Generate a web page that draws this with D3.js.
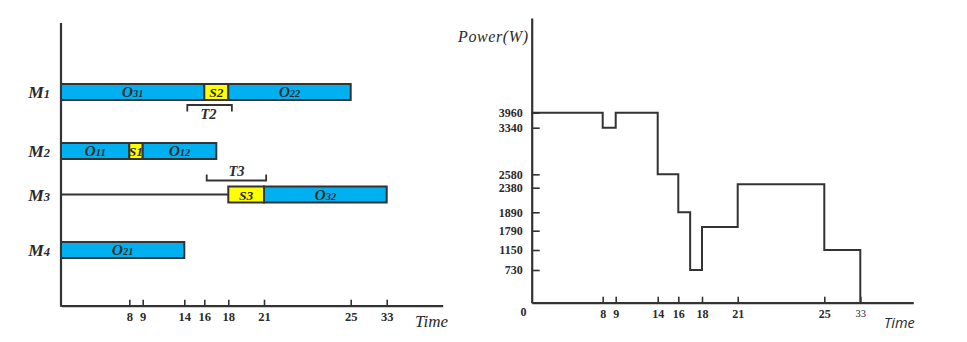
<!DOCTYPE html>
<html>
<head>
<meta charset="utf-8">
<script src="https://cdn.jsdelivr.net/npm/d3@7"></script>
<style>
  html, body { margin: 0; padding: 0; background: #fff; }
  svg { display: block; }
  text { fill: #2a2a2a; }
</style>
</head>
<body>
<svg id="chart" width="967" height="342"></svg>
<script>
// ---------------- DATA ----------------
const timeTicks = [8, 9, 14, 16, 18, 21, 25, 33];
const machines = ["M1", "M2", "M3", "M4"];
// Gantt segments: machine, kind (op / setup / idle), label base, label sub, start, end
const segMachine = ["M1", "M1", "M1", "M2", "M2", "M2", "M3", "M3", "M3", "M4"];
const segKind    = ["op", "setup", "op", "op", "setup", "op", "idle", "setup", "op", "op"];
const segBase    = ["O", "S2", "O", "O", "S1", "O", "", "S3", "O", "O"];
const segSub     = ["31", "", "22", "11", "", "12", "", "", "32", "21"];
const segStart   = [0, 16, 18, 0, 8, 9, 0, 18, 21, 0];
const segEnd     = [16, 18, 25, 8, 9, 17, 18, 21, 33, 14];
// transfer brackets
const brName  = ["T2", "T3"];
const brMach  = ["M1", "M3"];
const brStart = [14.3, 16.2];
const brEnd   = [18.3, 21.1];
// power profile (step after)
const powerTime  = [0, 8, 9, 14, 16, 17, 18, 21, 25, 33];
const powerValue = [3960, 3340, 3960, 2580, 1890, 730, 1810, 2430, 1150, 0];
const powerTicks = [730, 1150, 1790, 1890, 2380, 2580, 3340, 3960];

// ---------------- SETUP ----------------
const svg = d3.select("#chart");
const INK = "#333";
const serif = "'Liberation Serif', 'Times New Roman', serif";

// schematic (piecewise) time scales
const tDomain = [0, 8, 9, 14, 16, 18, 21, 25, 33, 38];
const xL = d3.scaleLinear().domain(tDomain)
  .range([61, 129.3, 142.7, 184.3, 204.3, 228.3, 264, 350.7, 386.7, 442.7]);
const yM = d3.scaleOrdinal().domain(machines).range([92, 151, 194.5, 250]);
const barH = 16;

// ---------------- LEFT: GANTT ----------------
const gL = svg.append("g");

// x axis
const axL = gL.append("g").attr("transform", "translate(0,305.7)")
  .call(d3.axisBottom(xL).tickValues(timeTicks).tickSizeInner(-6).tickSizeOuter(0).tickPadding(6));
axL.select(".domain").attr("stroke", INK).attr("stroke-width", 2.2);
axL.selectAll(".tick line").attr("stroke", INK).attr("stroke-width", 1.6);
axL.selectAll(".tick text").attr("font-family", serif).attr("font-weight", "bold")
  .attr("font-size", 12.5).attr("fill", "#2a2a2a");

// y axis line
gL.append("line").attr("x1", xL(0)).attr("x2", xL(0)).attr("y1", 23).attr("y2", 306.7)
  .attr("stroke", INK).attr("stroke-width", 2.2);

gL.append("text").attr("x", 415).attr("y", 327).attr("font-family", serif)
  .attr("font-style", "italic").attr("font-size", 17).text("Time");

// machine labels
machines.forEach(m => {
  const t = gL.append("text").attr("x", 50).attr("y", yM(m) + 6).attr("text-anchor", "end")
    .attr("font-family", serif).attr("font-style", "italic").attr("font-weight", "bold");
  t.append("tspan").attr("font-size", 17.5).text(m[0]);
  t.append("tspan").attr("font-size", 12.5).text(m.slice(1));
});

// segments
segMachine.forEach((m, i) => {
  const x0 = xL(segStart[i]), x1 = xL(segEnd[i]);
  const yc = yM(m);
  if (segKind[i] === "idle") {
    gL.append("line").attr("x1", x0).attr("x2", x1).attr("y1", yc).attr("y2", yc)
      .attr("stroke", INK).attr("stroke-width", 1.8);
    return;
  }
  gL.append("rect").attr("x", x0).attr("y", yc - barH / 2).attr("width", x1 - x0).attr("height", barH)
    .attr("fill", segKind[i] === "setup" ? "#FFFF00" : "#00B0F0")
    .attr("stroke", INK).attr("stroke-width", 2);
  const t = gL.append("text").attr("x", (x0 + x1) / 2).attr("y", yc + 5).attr("text-anchor", "middle")
    .attr("font-family", serif).attr("font-style", "italic").attr("font-weight", "bold");
  if (segKind[i] === "setup") {
    t.attr("font-size", 13.5).text(segBase[i]);
  } else {
    t.append("tspan").attr("font-size", 15.5).text(segBase[i]);
    t.append("tspan").attr("font-size", 10.5).text(segSub[i]);
  }
});

// brackets
brName.forEach((b, i) => {
  const x0 = xL(brStart[i]), x1 = xL(brEnd[i]);
  const below = brMach[i] === "M1";
  const yLine = below ? yM(brMach[i]) + 13 : yM(brMach[i]) - 14;
  const yEnd = below ? yLine + 6.5 : yLine - 6;
  gL.append("path")
    .attr("d", `M${x0},${yEnd}V${yLine}H${x1}V${yEnd}`)
    .attr("fill", "none").attr("stroke", INK).attr("stroke-width", 1.8);
  gL.append("text").attr("x", (x0 + x1) / 2 - (below ? 1 : 0))
    .attr("y", below ? yLine + 14 : yLine - 5).attr("text-anchor", "middle")
    .attr("font-family", serif).attr("font-style", "italic").attr("font-weight", "bold")
    .attr("font-size", 14.5).text(b);
});

// ---------------- RIGHT: POWER ----------------
const gR = svg.append("g");
const xR = d3.scaleLinear().domain(tDomain)
  .range([531.7, 602.7, 615.7, 657.7, 678.3, 702, 737.7, 824.3, 860.3, 913.3]);
const yR = d3.scaleLinear()
  .domain([0, 730, 1150, 1790, 1890, 2380, 2580, 3340, 3960, 5000])
  .range([302.7, 270, 250, 230.7, 212.3, 187.7, 174.3, 127.7, 112.7, 18]);

const axRx = gR.append("g").attr("transform", "translate(0,302.7)")
  .call(d3.axisBottom(xR).tickValues(timeTicks).tickSizeInner(-6).tickSizeOuter(0).tickPadding(7));
axRx.select(".domain").attr("stroke", INK).attr("stroke-width", 2.2);
axRx.selectAll(".tick line").attr("stroke", INK).attr("stroke-width", 1.6);
axRx.selectAll(".tick text").attr("font-family", serif).attr("font-weight", "bold")
  .attr("font-size", 12).attr("fill", "#2a2a2a")
  .filter(d => d === 33).attr("font-weight", "normal").attr("font-size", 10.5);

const axRy = gR.append("g").attr("transform", "translate(531.7,0)")
  .call(d3.axisLeft(yR).tickValues(powerTicks).tickFormat(d3.format("d"))
    .tickSizeInner(-8).tickSizeOuter(0).tickPadding(9));
axRy.select(".domain").attr("stroke", INK).attr("stroke-width", 2.2);
axRy.selectAll(".tick line").attr("stroke", INK).attr("stroke-width", 1.6);
axRy.selectAll(".tick text").attr("font-family", serif).attr("font-weight", "bold")
  .attr("font-size", 12).attr("fill", "#2a2a2a");

gR.append("text").attr("x", 523.5).attr("y", 316).attr("text-anchor", "middle")
  .attr("font-family", serif).attr("font-weight", "bold").attr("font-size", 12).text("0");

gR.append("text").attr("x", 458).attr("y", 42).attr("font-family", serif)
  .attr("font-style", "italic").attr("font-size", 16).attr("textLength", 70).text("Power(W)");

gR.append("text").attr("x", 884).attr("y", 328).attr("font-family", "'Open Sans', sans-serif")
  .attr("font-style", "italic").attr("font-size", 14.5).text("Time");

const line = d3.line().x(d => xR(d[0])).y(d => yR(d[1])).curve(d3.curveStepAfter);
gR.append("path").datum(powerTime.map((t, i) => [t, powerValue[i]]))
  .attr("d", line).attr("fill", "none").attr("stroke", INK).attr("stroke-width", 2);
</script>
</body>
</html>
